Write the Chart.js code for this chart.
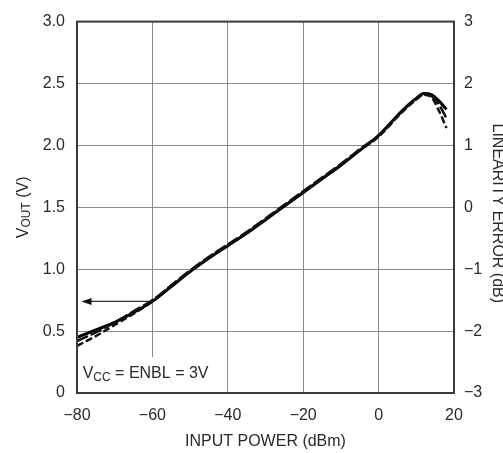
<!DOCTYPE html>
<html>
<head>
<meta charset="utf-8">
<script src="https://cdn.jsdelivr.net/npm/chart.js@4/dist/chart.umd.min.js"></script>
<style>
  html, body { margin: 0; padding: 0; background: #fff; }
  #wrap { width: 503px; height: 453px; }
</style>
</head>
<body>
<div id="wrap"><canvas id="c" width="503" height="453"></canvas></div>
<script>
// dados
const inputPower = [-80, -75, -70, -65, -60, -55, -50, -45, -40, -35, -30, -25, -20, -15, -10, -5, 0, 5, 8, 10, 12, 14, 16, 18];
const voutSolid  = [0.45, 0.51, 0.57, 0.65, 0.74, 0.86, 0.98, 1.09, 1.19, 1.29, 1.40, 1.51, 1.62, 1.73, 1.84, 1.96, 2.08, 2.24, 2.33, 2.38, 2.42, 2.41, 2.36, 2.29];
const voutDash1  = [0.38, 0.46, 0.55, 0.64, 0.74, 0.86, 0.98, 1.09, 1.19, 1.29, 1.40, 1.51, 1.62, 1.73, 1.84, 1.96, 2.07, 2.23, 2.32, 2.37, 2.41, 2.39, 2.28, 2.14];
const voutDash2  = [0.42, 0.49, 0.57, 0.66, 0.75, 0.87, 0.99, 1.10, 1.20, 1.30, 1.41, 1.52, 1.63, 1.74, 1.85, 1.97, 2.08, 2.24, 2.33, 2.38, 2.42, 2.40, 2.33, 2.22];

const xTicks = [-80, -60, -40, -20, 0, 20];
const yLeftTicks = [0, 0.5, 1.0, 1.5, 2.0, 2.5, 3.0];
const yRightTicks = [-3, -2, -1, 0, 1, 2, 3];
const arrowLevel = 0.74;   // seta apontando para o eixo esquerdo
const arrowFrom = -61;
const arrowTo = -78.8;

const FONT = "'Liberation Sans Narrow', 'Arial Narrow', 'Liberation Sans', sans-serif";
const TXT = '#2a2a2a';
const minus = s => String(s).replace('-', '\u2212');

function pts(ys) {
  return inputPower.map((x, i) => ({ x: x, y: ys[i] }));
}

// desenha texto com subscrito (ex.: V + OUT)
function subText(ctx, parts, x, y, align) {
  let total = 0;
  parts.forEach(p => { ctx.font = p.font; total += ctx.measureText(p.t).width; });
  let cx = align === 'center' ? x - total / 2 : x;
  parts.forEach(p => {
    ctx.font = p.font;
    ctx.fillText(p.t, cx, y + (p.dy || 0));
    cx += ctx.measureText(p.t).width;
  });
}

const overlay = {
  id: 'overlay',
  beforeDatasetsDraw(chart) {
    const { ctx, scales: { x, y } } = chart;
    ctx.save();
    // caixa branca da anotação
    const bx0 = x.getPixelForValue(-80) + 1;
    const bx1 = x.getPixelForValue(-41);
    const by0 = y.getPixelForValue(0.29);
    const by1 = y.getPixelForValue(0);
    ctx.fillStyle = '#fff';
    ctx.fillRect(bx0, by0, bx1 - bx0, by1 - by0);
    ctx.fillStyle = TXT;
    ctx.textBaseline = 'alphabetic';
    ctx.textAlign = 'left';
    subText(ctx, [
      { t: 'V', font: '16px ' + FONT },
      { t: 'CC', font: '12px ' + FONT, dy: 3 },
      { t: ' = ENBL = 3V', font: '16px ' + FONT }
    ], x.getPixelForValue(-78.5), y.getPixelForValue(0.12), 'left');

    // seta
    const ay = y.getPixelForValue(arrowLevel);
    const ax0 = x.getPixelForValue(arrowFrom);
    const ax1 = x.getPixelForValue(arrowTo);
    ctx.strokeStyle = '#333';
    ctx.lineWidth = 1.2;
    ctx.beginPath();
    ctx.moveTo(ax0, ay);
    ctx.lineTo(ax1 + 8, ay);
    ctx.stroke();
    ctx.fillStyle = '#111';
    ctx.beginPath();
    ctx.moveTo(ax1, ay);
    ctx.lineTo(ax1 + 10, ay - 3.5);
    ctx.lineTo(ax1 + 10, ay + 3.5);
    ctx.closePath();
    ctx.fill();
    ctx.restore();
  },
  afterDraw(chart) {
    const { ctx, chartArea: a } = chart;
    ctx.save();
    ctx.strokeStyle = '#3a3a3a';
    ctx.lineWidth = 2;
    ctx.strokeRect(a.left, a.top, a.right - a.left, a.bottom - a.top);

    ctx.fillStyle = TXT;
    ctx.textBaseline = 'middle';
    // título do eixo esquerdo
    ctx.save();
    ctx.translate(24, (a.top + a.bottom) / 2);
    ctx.rotate(-Math.PI / 2);
    subText(ctx, [
      { t: 'V', font: '16px ' + FONT },
      { t: 'OUT', font: '12px ' + FONT, dy: 3 },
      { t: ' (V)', font: '16px ' + FONT }
    ], 0, 0, 'center');
    ctx.restore();

    // título do eixo direito (cortado na borda)
    ctx.save();
    ctx.translate(497, (a.top + a.bottom) / 2 + 6);
    ctx.rotate(Math.PI / 2);
    ctx.textAlign = 'center';
    ctx.font = '16px ' + FONT;
    ctx.fillText('LINEARITY ERROR (dB)', 0, 0);
    ctx.restore();

    // título do eixo x
    ctx.textAlign = 'center';
    ctx.font = '16px ' + FONT;
    ctx.fillText('INPUT POWER (dBm)', (a.left + a.right) / 2, 442);
    ctx.restore();
  }
};

const lineBase = { showLine: true, pointRadius: 0, cubicInterpolationMode: 'monotone', yAxisID: 'y' };

new Chart(document.getElementById('c'), {
  type: 'scatter',
  data: {
    datasets: [
      Object.assign({ data: pts(voutDash1), borderColor: '#111', borderWidth: 2.5, borderDash: [7, 3] }, lineBase),
      Object.assign({ data: pts(voutDash2), borderColor: '#111', borderWidth: 2.5, borderDash: [12, 3] }, lineBase),
      Object.assign({ data: pts(voutSolid), borderColor: '#000', borderWidth: 3 }, lineBase)
    ]
  },
  options: {
    responsive: false,
    animation: false,
    layout: { padding: { top: 18, left: 0, right: 0, bottom: 0 } },
    plugins: { legend: { display: false }, tooltip: { enabled: false } },
    scales: {
      x: {
        type: 'linear', min: -80, max: 20,
        afterBuildTicks: s => { s.ticks = xTicks.map(v => ({ value: v })); },
        afterFit: s => { s.height = 60; },
        grid: { color: '#8a8a8a', lineWidth: 1, drawTicks: false },
        border: { display: false },
        ticks: { color: TXT, font: { family: FONT, size: 16 }, padding: 13, callback: v => minus(v) }
      },
      y: {
        position: 'left', min: 0, max: 3,
        afterBuildTicks: s => { s.ticks = yLeftTicks.map(v => ({ value: v })); },
        afterFit: s => { s.width = 77; },
        grid: { color: '#8a8a8a', lineWidth: 1, drawTicks: false },
        border: { display: false },
        ticks: { color: TXT, font: { family: FONT, size: 16 }, padding: 12, callback: v => v === 0 ? '0' : v.toFixed(1) }
      },
      y2: {
        position: 'right', min: -3, max: 3,
        afterBuildTicks: s => { s.ticks = yRightTicks.map(v => ({ value: v })); },
        afterFit: s => { s.width = 49; },
        grid: { display: false, drawTicks: false },
        border: { display: false },
        ticks: { color: TXT, font: { family: FONT, size: 16 }, padding: 10, callback: v => minus(v) }
      }
    }
  },
  plugins: [overlay]
});
</script>
</body>
</html>
